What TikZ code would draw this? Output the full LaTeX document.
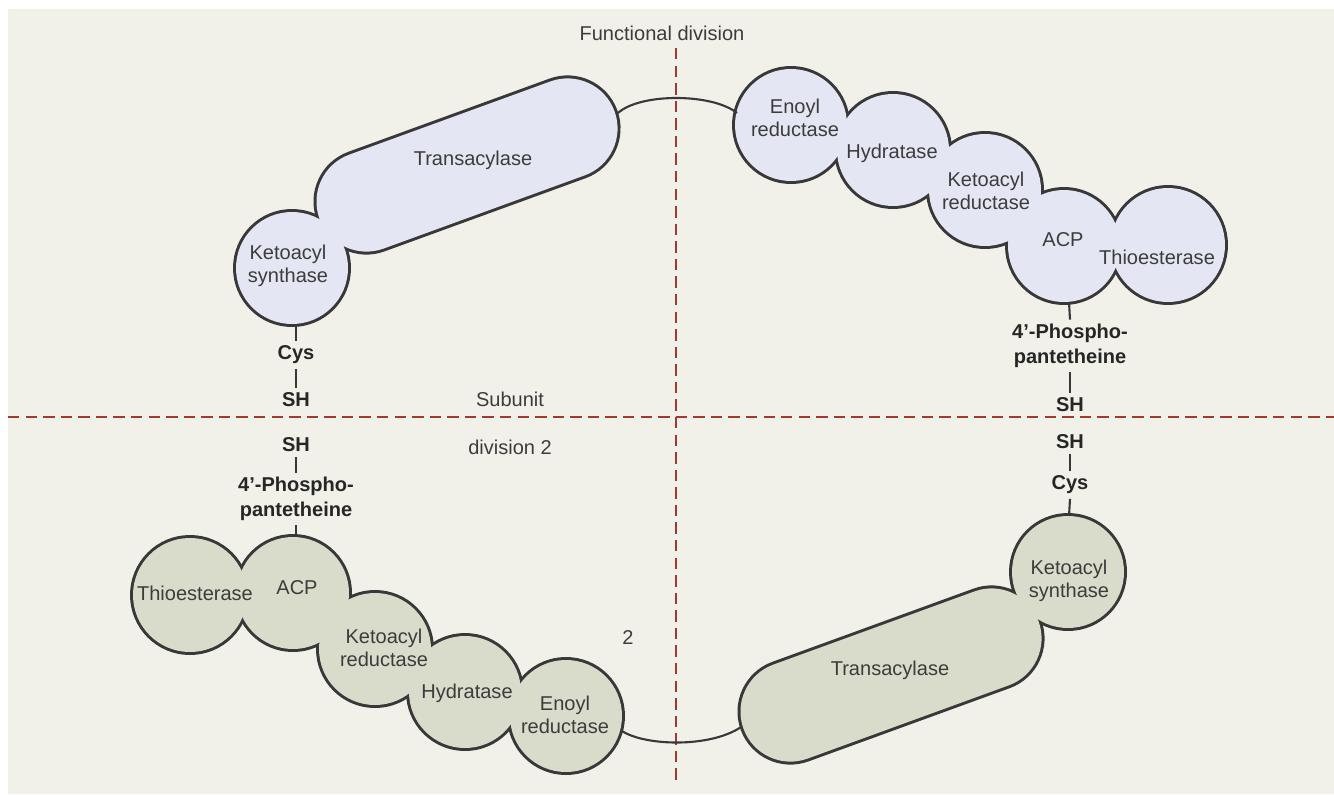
\documentclass[tikz,border=0pt]{standalone}
\usepackage{fontspec}
\setsansfont{Liberation Sans}
\usepackage{xcolor}
\usepackage{tikz}
\usetikzlibrary{positioning}

\definecolor{panel}{HTML}{F1F1E9}
\definecolor{subA}{HTML}{E4E6F4}
\definecolor{subB}{HTML}{D9DCCA}
\definecolor{rim}{HTML}{383838}
\definecolor{cut}{HTML}{A03A30}
\definecolor{ink}{HTML}{3C3C3C}

% the domains of each subunit, drawn twice (outline, then fill) so they merge
\newcommand{\upperset}[1]{%
  \path[#1] (292,268) circle[radius=56];
  \path[#1, shift={(467,165)}, rotate=20] (-107,-50) -- (107,-50)
    arc[start angle=-90, end angle=90, radius=50] -- (-107,50)
    arc[start angle=90, end angle=270, radius=50] -- cycle;
  \path[#1] (791,125) circle[radius=56];
  \path[#1] (893,150) circle[radius=56];
  \path[#1] (985,190) circle[radius=56];
  \path[#1] (1064,246) circle[radius=56];
  \path[#1] (1168,245) circle[radius=57];
}
\newcommand{\lowerset}[1]{%
  \path[#1] (1068,572) circle[radius=56];
  \path[#1, shift={(891,675)}, rotate=20] (-107,-50) -- (107,-50)
    arc[start angle=-90, end angle=90, radius=50] -- (-107,50)
    arc[start angle=90, end angle=270, radius=50] -- cycle;
  \path[#1] (566,716) circle[radius=56];
  \path[#1] (465,692) circle[radius=56];
  \path[#1] (375,649) circle[radius=56];
  \path[#1] (293,593) circle[radius=56];
  \path[#1] (190,595) circle[radius=57];
}

\begin{document}
\begin{tikzpicture}[
    x=0.02cm, y=-0.02cm,
    font=\sffamily\fontsize{11.4}{13.4}\selectfont,
    rimline/.style={draw=rim, line width=3.4pt},
    link/.style={draw=rim, line width=1.2pt},
    divline/.style={draw=cut, line width=1.1pt, dash pattern=on 6.5pt off 3.5pt},
    lbl/.style={text=ink, align=center, inner sep=1pt},
    grp/.style={align=center, text=black!85, inner sep=2.5pt,
      font=\sffamily\bfseries\fontsize{11.4}{14}\selectfont},
]
    \useasboundingbox (0,0) rectangle (1334,794);
    \fill[white] (0,0) rectangle (1334,794);
    \fill[panel] (8,9) rectangle (1334,794);

    % division lines
    \coordinate (vtop) at (676,48);
    \coordinate (vbot) at (676,784);
    \coordinate (hleft) at (8,417);
    \coordinate (hright) at (1334,417);
    \draw[divline] (vtop) -- (vbot);
    \draw[divline] (hleft) -- (hright);

    % domains
    \upperset{rimline}
    \lowerset{rimline}
    \upperset{fill=subA}
    \lowerset{fill=subB}

    % subunit 1
    \node[lbl] (ksA) at (288,266) {Ketoacyl\\synthase};
    \node[lbl] (taA) at (473,160) {Transacylase};
    \node[lbl] (enA) at (795,118) {Enoyl\\reductase};
    \node[lbl] (hyA) at (892,153) {Hydratase};
    \node[lbl] (krA) at (986,191) {Ketoacyl\\reductase};
    \node[lbl] (acpA) at (1063,240) {ACP};
    \node[lbl] (teA) at (1157,257) {Thioesterase};

    % subunit 2
    \node[lbl] (ksB) at (1069,581) {Ketoacyl\\synthase};
    \node[lbl] (taB) at (890,670) {Transacylase};
    \node[lbl] (enB) at (565,715) {Enoyl\\reductase};
    \node[lbl] (hyB) at (467,693) {Hydratase};
    \node[lbl] (krB) at (384,648) {Ketoacyl\\reductase};
    \node[lbl] (acpB) at (297,588) {ACP};
    \node[lbl] (teB) at (195,593) {Thioesterase};

    % linkers between the two halves of each subunit
    \coordinate (taAend) at (618,113);
    \coordinate (enAend) at (737,113);
    \coordinate (enBend) at (622,731);
    \coordinate (taBend) at (741,727);
    \draw[link] (taAend) .. controls (640,93) and (712,93) .. (enAend);
    \draw[link] (enBend) .. controls (645,746) and (710,748) .. (taBend);

    % thiol groups
    \node[grp] (cysA) at (296,355) {Cys};
    \node[grp] (shA) at (296,400) {SH};
    \node[grp] (shB) at (296,445) {SH};
    \node[grp] (ppB) at (296,499) {4'-Phospho-\\pantetheine};
    \node[grp] (ppA) at (1070,346) {4'-Phospho-\\pantetheine};
    \node[grp] (shC) at (1070,405) {SH};
    \node[grp] (shD) at (1070,442) {SH};
    \node[grp] (cysB) at (1070,485) {Cys};

    \coordinate (ksAfoot) at (296,324);
    \coordinate (acpBtop) at (296,537);
    \coordinate (acpAfoot) at (1069,302);
    \coordinate (ksBtop) at (1069,516);

    \draw[link] (ksAfoot) -- (cysA.north);
    \draw[link] (cysA.south) -- (shA.north);
    \draw[link] (shB.south) -- (ppB.north);
    \draw[link] (ppB.south) -- (acpBtop);
    \draw[link] (acpAfoot) -- (ppA.north);
    \draw[link] (ppA.south) -- (shC.north);
    \draw[link] (shD.south) -- (cysB.north);
    \draw[link] (cysB.south) -- (ksBtop);

    % captions
    \node[lbl] (fdiv) at (662,33) {Functional division};
    \node[lbl] (sdivA) at (510,399) {Subunit};
    \node[lbl] (sdivB) at (510,447) {division 2};
    \node[lbl] (two) at (628,637) {2};
\end{tikzpicture}
\end{document}
